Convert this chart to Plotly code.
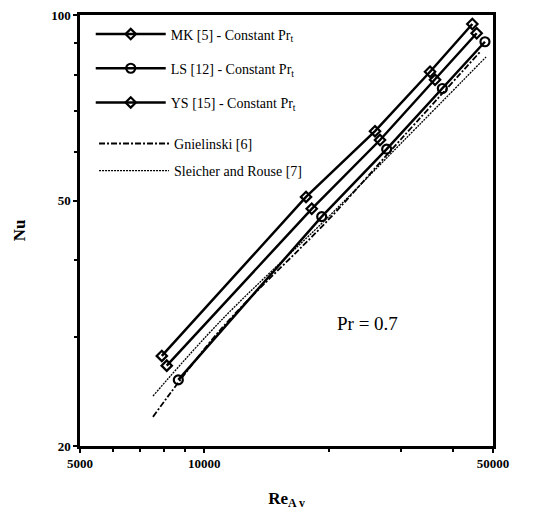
import plotly.graph_objects as go
import numpy as np

# Data
re_mk = [7890, 17630, 25900, 35200, 44560]
nu_mk = [28.0, 50.7, 64.8, 80.9, 96.7]

re_ls = [8650, 19240, 27640, 37700, 47810]
nu_ls = [25.6, 47.1, 60.6, 76.0, 90.5]

re_ys = [8110, 18200, 26630, 36200, 45650]
nu_ys = [27.0, 48.5, 62.7, 78.5, 93.4]

re_gn = [7510, 11000, 20000, 30000, 46500]
nu_gn = [22.3, 31.0, 46.6, 63.0, 87.1]

re_sr = [7510, 11000, 20000, 30000, 48100]
nu_sr = [24.1, 32.0, 47.1, 62.0, 85.5]

FONT = "Liberation Serif"
fig = go.Figure()

mk_label = "MK [5] - Constant Pr<sub>t</sub>"
ls_label = "LS [12] - Constant Pr<sub>t</sub>"
ys_label = "YS [15] - Constant Pr<sub>t</sub>"

fig.add_trace(go.Scatter(x=re_mk, y=nu_mk, mode="lines+markers", name=mk_label,
                         line=dict(color="black", width=2.5),
                         marker=dict(symbol="diamond-open", size=8, color="black", line=dict(width=2.2)),
                         legend="legend", legendgroup="a"))
fig.add_trace(go.Scatter(x=re_ls, y=nu_ls, mode="lines+markers", name=ls_label,
                         line=dict(color="black", width=2.5),
                         marker=dict(symbol="circle-open", size=9, color="black", line=dict(width=2.2)),
                         legend="legend", legendgroup="b"))
fig.add_trace(go.Scatter(x=re_ys, y=nu_ys, mode="lines+markers", name=ys_label,
                         line=dict(color="black", width=2.5),
                         marker=dict(symbol="diamond-open", size=8, color="black", line=dict(width=2.2)),
                         legend="legend", legendgroup="c"))
fig.add_trace(go.Scatter(x=re_gn, y=nu_gn, mode="lines", name="Gnielinski [6]",
                         line=dict(color="black", width=1.8, dash="6px,2px,2px,2px"),
                         legend="legend2", legendgroup="d", line_shape="spline"))
fig.add_trace(go.Scatter(x=re_sr, y=nu_sr, mode="lines", name="Sleicher and Rouse [7]",
                         line=dict(color="black", width=1.3, dash="2px,1px"),
                         legend="legend2", legendgroup="e", line_shape="spline"))

fig.add_annotation(x=np.log10(24770), y=np.log10(31.6), xref="x", yref="y",
                   text="Pr = 0.7", showarrow=False,
                   font=dict(family=FONT, size=19, color="black"))

axis_common = dict(
    showgrid=False, zeroline=False, showline=True, linecolor="black", linewidth=2.5,
    mirror=True, ticks="outside", tickcolor="black", tickwidth=2, automargin=False,
    ticklabeloverflow="allow",
    tickfont=dict(family=FONT, size=13, color="black", weight="bold"),
)

fig.update_xaxes(type="log", range=[np.log10(5000), np.log10(50000)],
                 tickvals=[5000, 10000, 50000], ticktext=["5000", "10000", "50000"],
                 ticklen=4,
                 minor=dict(tickvals=[6000, 7000, 8000, 9000, 20000, 30000, 40000],
                            ticks="outside", ticklen=3, tickwidth=2, tickcolor="black"),
                 title=dict(text="Re<sub>A v</sub>", font=dict(family=FONT, size=17, color="black", weight="bold"),
                            standoff=22),
                 **axis_common)
fig.update_yaxes(type="log", range=[np.log10(20), 2],
                 tickvals=[20, 50, 100], ticktext=["20", "50", "100"],
                 ticklen=4,
                 minor=dict(tickvals=[30, 40, 60, 70, 80, 90],
                            ticks="outside", ticklen=3, tickwidth=2, tickcolor="black"),
                 title=dict(text="Nu", font=dict(family=FONT, size=17, color="black", weight="bold"),
                            standoff=22),
                 **axis_common)

legend_common = dict(bgcolor="rgba(0,0,0,0)", borderwidth=0, itemwidth=70,
                     font=dict(family=FONT, size=14, color="black"),
                     xanchor="left", yanchor="top", itemclick=False)
fig.update_layout(
    width=541, height=505,
    margin=dict(l=72, r=56, t=7, b=67, autoexpand=False),
    plot_bgcolor="white", paper_bgcolor="white",
    legend=dict(x=0.026, y=0.992, tracegroupgap=13, **legend_common),
    legend2=dict(x=0.034, y=0.738, tracegroupgap=6, **legend_common),
)

fig.write_html("out.html")
